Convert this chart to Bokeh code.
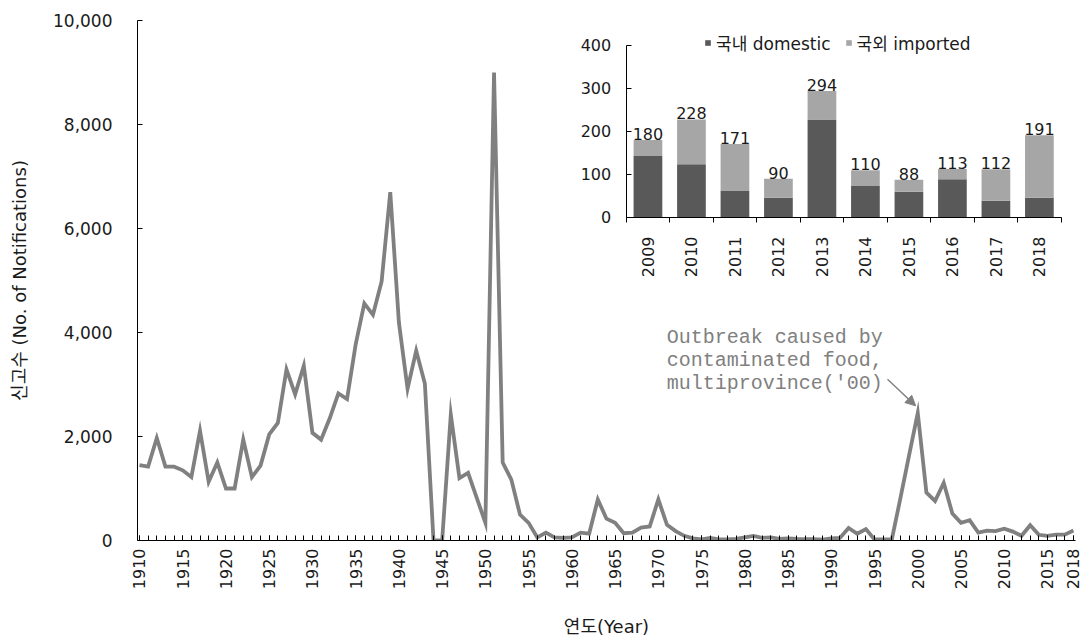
from math import pi
from bokeh.plotting import figure
from bokeh.models import (Range1d, LinearAxis, FixedTicker, NumeralTickFormatter,
                          ColumnDataSource, Arrow, NormalHead)
from bokeh.core.properties import value
from bokeh.embed import file_html
from bokeh.resources import INLINE

# ---------------- data ----------------
years = list(range(1910, 2019))
counts = [
    1450, 1420, 1970, 1420, 1420, 1350, 1220, 2110, 1130, 1500,   # 1910-1919
    1000, 1000, 1940, 1220, 1440, 2040, 2260, 3290, 2810, 3360,   # 1920-1929
    2070, 1940, 2350, 2830, 2720, 3770, 4560, 4340, 4980, 6700,   # 1930-1939
    4190, 2920, 3650, 3020, 0, 0, 2420, 1200, 1300, 820,          # 1940-1949
    340, 9000, 1500, 1170, 500, 340, 60, 150, 60, 50,             # 1950-1959
    60, 150, 130, 790, 420, 340, 140, 150, 250, 270,              # 1960-1969
    790, 300, 180, 90, 40, 20, 50, 20, 20, 30,                    # 1970-1979
    60, 90, 50, 60, 30, 40, 30, 25, 25, 15,                       # 1980-1989
    40, 50, 240, 130, 220, 20, 20, 20, 820, 1640,                 # 1990-1999
    2450, 920, 760, 1110, 520, 340, 390, 150, 190, 180,           # 2000-2009
    228, 171, 90, 294, 110, 88, 113, 112, 191,                    # 2010-2018
]
major_year_ticks = list(range(1910, 2016, 5)) + [2018]
y_ticks = [0, 2000, 4000, 6000, 8000, 10000]

inset_years = list(range(2009, 2019))
domestic = [143, 124, 63, 46, 228, 73, 60, 89, 39, 46]
totals = [180, 228, 171, 90, 294, 110, 88, 113, 112, 191]
imported = [t - d for t, d in zip(totals, domestic)]
inset_y_ticks = [0, 100, 200, 300, 400]
series_names = ["국내 domestic", "국외 imported"]

note_year = 2000
note_text = "Outbreak caused by\ncontaminated food,\nmultiprovince('00)"

# ---------------- styles ----------------
LINE_COL = "#808080"
DARK = "#595959"
LIGHT = "#a6a6a6"
TXT = "#1a1a1a"
NUM_FONT = "DejaVu Sans"
KR_FONT = "DejaVu Sans, Noto Sans CJK KR"

p = figure(width=1088, height=642, output_backend="svg", toolbar_location=None,
           x_range=Range1d(1909.77, 2018.24), y_range=Range1d(0, 10000),
           min_border_left=137, min_border_right=13, min_border_top=20,
           min_border_bottom=102, x_axis_type=None, y_axis_type=None)
p.outline_line_color = None
p.grid.visible = False

# main line
p.line(years, counts, line_color=LINE_COL, line_width=3.8, line_join="miter")

# main axes
xa = LinearAxis(ticker=FixedTicker(ticks=major_year_ticks, minor_ticks=years))
xa.major_tick_in = 5
xa.major_tick_out = 0
xa.minor_tick_in = 5
xa.minor_tick_out = 0
xa.major_label_orientation = pi / 2
xa.major_label_standoff = 8
xa.major_label_text_font = NUM_FONT
xa.major_label_text_font_size = "16px"
xa.major_label_text_color = TXT
xa.axis_label = "연도(Year)"
xa.axis_label_text_font = KR_FONT
xa.axis_label_text_font_size = "18px"
xa.axis_label_text_font_style = "normal"
xa.axis_label_text_color = TXT
xa.axis_label_standoff = 24
xa.axis_line_color = "black"
p.add_layout(xa, "below")

ya = LinearAxis(ticker=FixedTicker(ticks=y_ticks),
                formatter=NumeralTickFormatter(format="0,0"))
ya.major_tick_in = 5
ya.major_tick_out = 0
ya.minor_tick_in = 0
ya.minor_tick_out = 0
ya.major_label_standoff = 25
ya.major_label_text_font = NUM_FONT
ya.major_label_text_font_size = "17px"
ya.major_label_text_color = TXT
ya.axis_label = "신고수 (No. of Notifications)"
ya.axis_label_text_font = KR_FONT
ya.axis_label_text_font_size = "18px"
ya.axis_label_text_font_style = "normal"
ya.axis_label_text_color = TXT
ya.axis_label_standoff = 20
ya.axis_line_color = "black"
p.add_layout(ya, "left")

# annotation
ni = years.index(note_year)
nsrc = ColumnDataSource(dict(x=[years[ni]], y=[counts[ni]], t=[note_text]))
p.text(x="x", y="y", text="t", source=nsrc, x_offset=-251, y_offset=-87,
       text_baseline="top", text_align="left", text_font=value("Liberation Mono"),
       text_font_size="20px", text_color=LINE_COL, text_line_height=1.0)
p.add_layout(Arrow(x_start=years[ni] - 3.5, y_start=counts[ni] + 650,
                   x_end=years[ni] - 0.25, y_end=counts[ni] + 140,
                   line_color=LINE_COL, line_width=1.5,
                   end=NormalHead(size=10, fill_color=LINE_COL, line_color=LINE_COL)))

# ---------------- inset (own ranges within the same frame) ----------------
p.extra_x_ranges = {"ix": Range1d(1997.264, 2018.83)}
p.extra_y_ranges = {"iy": Range1d(-751.2, 458.1)}

isrc = ColumnDataSource(dict(year=inset_years, domestic=domestic,
                             imported=imported, total=totals,
                             label=[str(t) for t in totals]))
p.vbar_stack(["domestic", "imported"], x="year", width=0.66, source=isrc,
             color=[DARK, LIGHT], line_color=None,
             x_range_name="ix", y_range_name="iy", legend_label=series_names)

p.text(x="year", y="total", text="label", source=isrc,
       x_range_name="ix", y_range_name="iy", text_align="center",
       text_baseline="bottom", text_font=value(NUM_FONT),
       text_font_size="16px", text_color=TXT)

iya = LinearAxis(x_range_name="ix", y_range_name="iy", fixed_location=2008.5,
                 bounds=(0, 400), ticker=FixedTicker(ticks=inset_y_ticks))
iya.major_tick_in = 5
iya.major_tick_out = 0
iya.minor_tick_in = 0
iya.minor_tick_out = 0
iya.major_label_standoff = 15
iya.major_label_text_font = NUM_FONT
iya.major_label_text_font_size = "16px"
iya.major_label_text_color = TXT
iya.axis_line_color = "black"
p.add_layout(iya, "left")

boundaries = [y - 0.5 for y in inset_years] + [inset_years[-1] + 0.5]
ixa = LinearAxis(x_range_name="ix", y_range_name="iy", fixed_location=0,
                 bounds=(inset_years[0] - 0.5, inset_years[-1] + 0.5),
                 ticker=FixedTicker(ticks=inset_years, minor_ticks=boundaries))
ixa.major_tick_in = 0
ixa.major_tick_out = 0
ixa.minor_tick_in = 0
ixa.minor_tick_out = 5
ixa.major_label_orientation = pi / 2
ixa.major_label_standoff = 14
ixa.major_label_text_font = NUM_FONT
ixa.major_label_text_font_size = "16px"
ixa.major_label_text_color = TXT
ixa.axis_line_color = "black"
p.add_layout(ixa, "below")

lg = p.legend[0]
lg.location = (567, 485)
lg.orientation = "horizontal"
lg.glyph_width = 7
lg.glyph_height = 7
lg.label_standoff = 5
lg.spacing = 14
lg.padding = 0
lg.margin = 0
lg.border_line_alpha = 0
lg.background_fill_alpha = 0
lg.label_text_font = KR_FONT
lg.label_text_font_size = "17px"
lg.label_text_color = TXT

open("out.html", "w").write(file_html(p, INLINE))
